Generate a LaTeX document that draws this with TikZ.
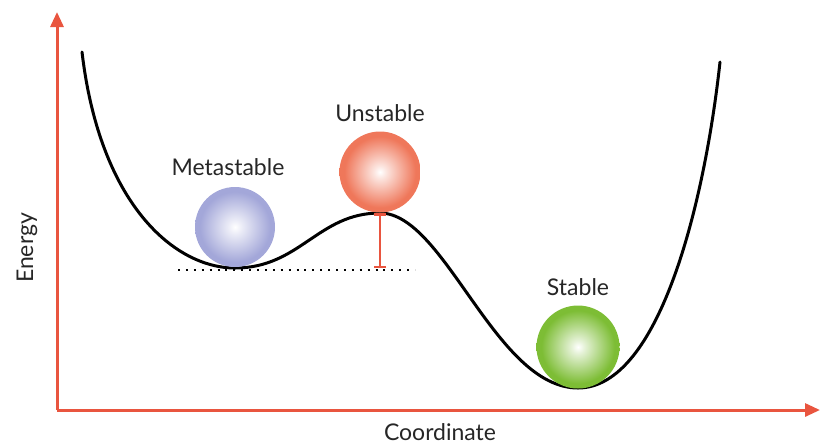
\documentclass[tikz,border=0pt]{standalone}
\usepackage{fontspec}
\setmainfont{Lato}
\usetikzlibrary{arrows.meta}
\definecolor{axisred}{HTML}{E9553F}
\definecolor{metaC}{HTML}{A3A7D9}
\definecolor{metaD}{HTML}{9297CE}
\definecolor{unstC}{HTML}{EF775A}
\definecolor{unstD}{HTML}{E65F45}
\definecolor{stabC}{HTML}{7DBD35}
\definecolor{stabD}{HTML}{68AC22}
\pgfdeclareradialshading{ballmeta}{\pgfpoint{0bp}{0bp}}{color(0bp)=(white); color(4bp)=(white!80!metaC); color(22bp)=(metaC); color(44bp)=(metaC); color(50bp)=(metaD)}
\pgfdeclareradialshading{ballunst}{\pgfpoint{0bp}{0bp}}{color(0bp)=(white); color(4bp)=(white!80!unstC); color(22bp)=(unstC); color(44bp)=(unstC); color(50bp)=(unstD)}
\pgfdeclareradialshading{ballstab}{\pgfpoint{0bp}{0bp}}{color(0bp)=(white); color(4bp)=(white!80!stabC); color(22bp)=(stabC); color(44bp)=(stabC); color(50bp)=(stabD)}
\tikzset{
  axisline/.style={draw=axisred, line width=3pt, -{Triangle[length=15pt,width=13pt]}},
  ballnode/.style={circle, minimum size=#1, inner sep=0pt},
  lbl/.style={font=\fontsize{23}{27}\selectfont, text=black!85, inner sep=0pt},
}
\begin{document}
\begin{tikzpicture}[x=1pt,y=-1pt]
\useasboundingbox (0,0) rectangle (821,445);
% axes
\coordinate (origin) at (57,410);
\coordinate (ytip) at (57,12);
\coordinate (xtip) at (820,410);
\draw[axisline] (origin) -- (ytip);
\draw[axisline] (origin) -- (xtip);
% energy curve
\coordinate (cstart) at (82,52);
\coordinate (metamin) at (235,268);
\coordinate (barrier) at (380,213);
\coordinate (stabmin) at (578,388);
\coordinate (cend) at (720,62);
\draw[line width=3pt, line cap=round]
  (cstart) .. controls (100,205) and (175,268) .. (metamin)
           .. controls (300,268) and (318,213) .. (barrier)
           .. controls (445,213) and (495,388) .. (stabmin)
           .. controls (660,388) and (705,200) .. (cend);
% reference level and barrier height
\coordinate (dotL) at (178,270);
\coordinate (dotR) at (415,270);
\coordinate (barbase) at (380,268);
\draw[line width=2pt, dash pattern=on 2pt off 5.9pt] (dotL) -- (dotR);
\draw[axisred, line width=2.5pt, {Bar[width=12pt]}-{Bar[width=12pt]}] (barbase) -- (barrier);
% balls
\node[ballnode=80pt, shading=ballmeta] (metaball) at (235,227) {};
\node[ballnode=81pt, shading=ballunst] (unstball) at (380,172) {};
\node[ballnode=83pt, shading=ballstab] (stabball) at (578,347) {};
% labels
\node[lbl] (metalbl) at (228,167) {Metastable};
\node[lbl] (unstlbl) at (380,113) {Unstable};
\node[lbl] (stablbl) at (578,287) {Stable};
\node[lbl, rotate=90] (ylbl) at (27,248) {Energy};
\node[lbl] (xlbl) at (440,432) {Coordinate};
\end{tikzpicture}
\end{document}
